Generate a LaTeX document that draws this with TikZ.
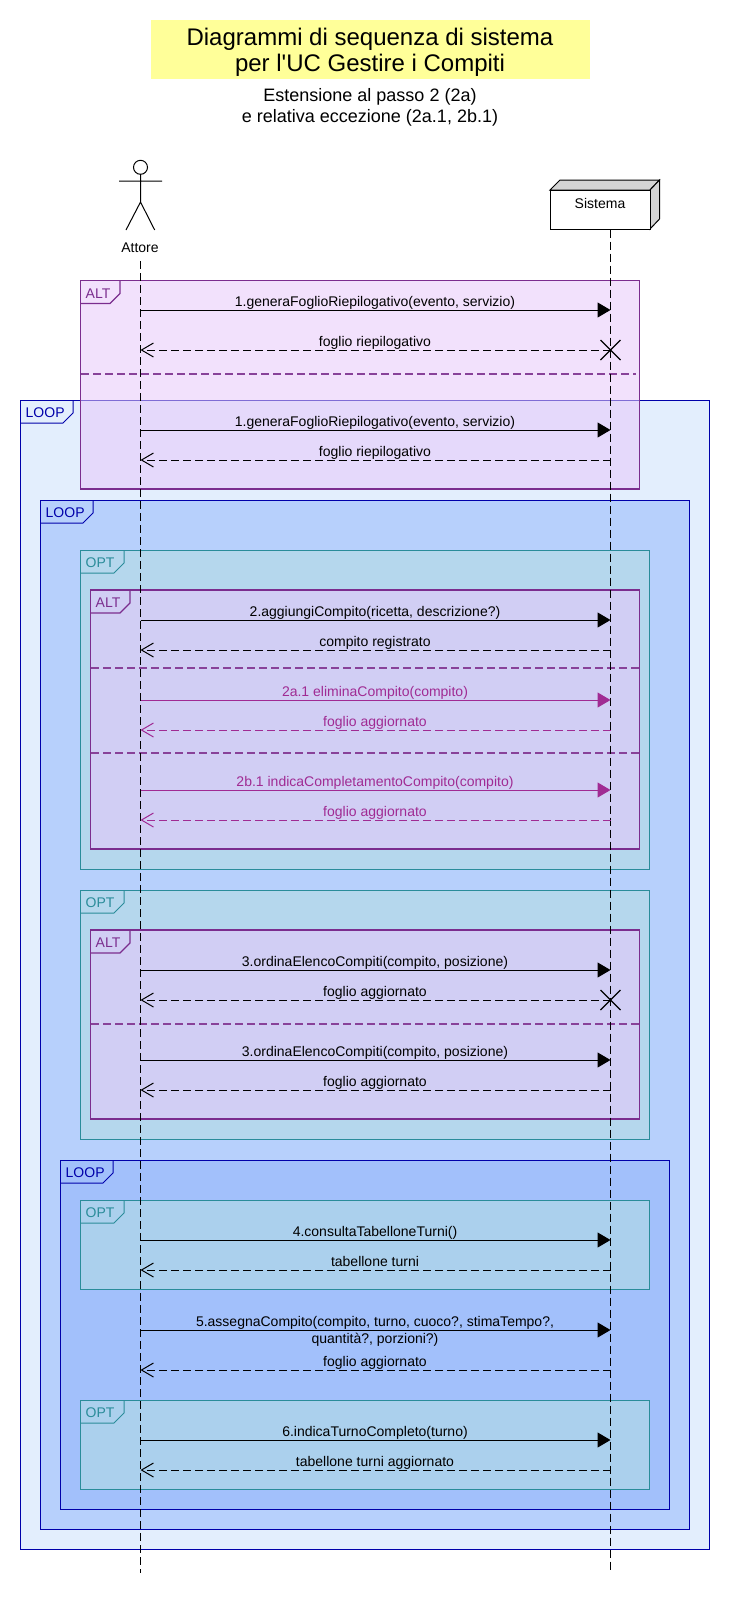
\documentclass[tikz,border=0pt]{standalone}
\usepackage{fontspec}
\setmainfont[Ligatures=TeXOff]{Liberation Sans}
\usetikzlibrary{arrows.meta}
\definecolor{titlefill}{HTML}{FFFF99}
\definecolor{altline}{HTML}{7B2D8E}
\definecolor{altfill}{HTML}{E8C8FA}
\definecolor{loopline}{HTML}{0000AA}
\definecolor{loopA}{HTML}{E3EEFD}
\definecolor{loopB}{HTML}{B7D0FC}
\definecolor{loopC}{HTML}{A2C0FB}
\definecolor{optline}{HTML}{2A8C9A}
\definecolor{optfill}{HTML}{B5DFE1}
\definecolor{extmsg}{HTML}{A02B93}
\definecolor{sideface}{HTML}{D4D4D4}

\begin{document}
\begin{tikzpicture}[
  x=1pt, y=-1pt,
  % Fragment styles
  altframe/.style={draw=altline, fill=altfill, fill opacity=0.55, line width=1.3pt},
  optframe/.style={draw=optline, fill=optfill, fill opacity=0.52, line width=1pt},
  loopAframe/.style={draw=loopline, fill=loopA, line width=1pt},
  loopBframe/.style={draw=loopline, fill=loopB, line width=1pt},
  loopCframe/.style={draw=loopline, fill=loopC, line width=1pt},
  altlabel/.style={anchor=west, inner sep=0pt, font=\fontsize{14}{16}\selectfont, text=altline},
  optlabel/.style={anchor=west, inner sep=0pt, font=\fontsize{14}{16}\selectfont, text=optline},
  looplabel/.style={anchor=west, inner sep=0pt, font=\fontsize{14}{16}\selectfont, text=loopline},
  divider/.style={draw=altline!90, line width=1.5pt, dash pattern=on 7.5pt off 4.5pt},
  % Message styles
  msg/.style={anchor=base, inner sep=0pt, font=\fontsize{14}{16}\selectfont},
  call/.style={-{Triangle[length=13pt,width=15pt]}, line width=1pt},
  reply/.style={-{Straight Barb[length=12pt,width=14pt,line width=1pt]}, line width=1pt, dash pattern=on 8pt off 4pt},
  lifeline/.style={line width=1pt, dash pattern=on 8pt off 4pt},
]
  \useasboundingbox (0,0) rectangle (730,1610);
  \pgfmathsetmacro{\actx}{140.5}
  \pgfmathsetmacro{\sysx}{610.5}
  \pgfmathsetmacro{\midx}{375}

  % Title and subtitle
  \fill[titlefill] (151,20) rectangle (590,79);
  \node[inner sep=0pt, align=center, font=\fontsize{24}{26}\selectfont] (title) at (370,52) {Diagrammi di sequenza di sistema\\per l'UC Gestire i Compiti};
  \node[inner sep=0pt, align=center, font=\fontsize{18}{20.5}\selectfont] (subtitle) at (370,107.5) {Estensione al passo 2 (2a)\\e relativa eccezione (2a.1, 2b.1)};

  % Frames, outermost first
  \foreach \kind/\lab/\xa/\ya/\xb/\yb/\tabx/\txt in {
    loopA/loop/20.5/400/709/1549/73/LOOP,
    alt/alt/80.5/280.5/639.5/489/120/ALT,
    loopB/loop/40.5/500/689.5/1529/93/LOOP,
    opt/opt/80.5/550/649/869/124/OPT,
    alt/alt/90.5/590/639.5/849/130/ALT,
    opt/opt/80.5/890/649/1139/124/OPT,
    alt/alt/90.5/930/639.5/1119/130/ALT,
    loopC/loop/60.5/1160/669.5/1509/113/LOOP,
    opt/opt/80.5/1200/649/1289/124/OPT,
    opt/opt/80.5/1400/649/1489/124/OPT} {
    \draw[\kind frame] (\xa,\ya) rectangle (\xb,\yb);
    \draw[\kind frame, fill=none] (\xa,\ya+23) -- (\tabx-10,\ya+23) -- (\tabx,\ya+13) -- (\tabx,\ya);
    \node[\lab label] (tab-\ya) at (\xa+5,\ya+13) {\txt};
  }

  % Dividers
  \foreach \n/\y/\xa/\xb in {1/374/81/636, 2/668/91/639, 3/753/91/639, 4/1024/91/639} {
    \coordinate (D-\n-l) at (\xa,\y);
    \coordinate (D-\n-r) at (\xb,\y);
    \draw[divider] (D-\n-l) -- (D-\n-r);
  }

  % Actor
  \node[circle, draw, line width=1pt, minimum size=14pt, inner sep=0pt] (head) at (\actx,167.3) {};
  \coordinate (hip) at (\actx,202);
  \coordinate (armL) at (119,181);
  \coordinate (armR) at (162,181);
  \coordinate (legL) at (126,230);
  \coordinate (legR) at (154.7,230);
  \draw[line width=1pt] (head) -- (hip) (armL) -- (armR) (legL) -- (hip) -- (legR);
  \node[msg] (attore) at (140,252.5) {Attore};

  % Sistema box
  \fill[sideface, draw=black, line width=1pt] (550,190) -- (560,180) -- (659.5,180) -- (650,190) -- cycle;
  \fill[sideface, draw=black, line width=1pt] (650,190) -- (659.5,180) -- (659.5,219) -- (650,229) -- cycle;
  \node[draw, fill=white, line width=1pt, minimum width=100pt, minimum height=39pt, inner sep=0pt] (sistema) at (600,209.5) {};
  \node[msg] (sistemalabel) at (600,208) {Sistema};

  % Lifelines
  \coordinate (A-top) at (\actx,261);
  \coordinate (A-end) at (\actx,1573);
  \coordinate (S-top) at (\sysx,229.5);
  \coordinate (S-end) at (\sysx,1573);
  \draw[lifeline] (A-top) -- (A-end);
  \draw[lifeline] (S-top) -- (S-end);

  % Calls: actor to system
  \foreach \y/\col/\txt in {
    310/black/{1.generaFoglioRiepilogativo(evento, servizio)},
    430/black/{1.generaFoglioRiepilogativo(evento, servizio)},
    620/black/{2.aggiungiCompito(ricetta, descrizione?)},
    700/extmsg/{2a.1 eliminaCompito(compito)},
    790/extmsg/{2b.1 indicaCompletamentoCompito(compito)},
    970/black/{3.ordinaElencoCompiti(compito, posizione)},
    1060/black/{3.ordinaElencoCompiti(compito, posizione)},
    1240/black/{4.consultaTabelloneTurni()},
    1330/black/{5.assegnaCompito(compito, turno, cuoco?, stimaTempo?,},
    1440/black/{6.indicaTurnoCompleto(turno)}} {
    \coordinate (A-\y) at (\actx,\y);
    \coordinate (S-\y) at (\sysx,\y);
    \draw[call, draw=\col, fill=\col] (A-\y) -- (S-\y);
    \node[msg, text=\col] (M-\y) at (\midx,\y-4) {\txt};
  }
  \node[msg] (M-1330b) at (\midx,1343) {quantità?, porzioni?)};

  % Replies: system to actor
  \foreach \y/\col/\txt in {
    350/black/{foglio riepilogativo},
    460/black/{foglio riepilogativo},
    650/black/{compito registrato},
    730/extmsg/{foglio aggiornato},
    820/extmsg/{foglio aggiornato},
    1000/black/{foglio aggiornato},
    1090/black/{foglio aggiornato},
    1270/black/{tabellone turni},
    1370/black/{foglio aggiornato},
    1470/black/{tabellone turni aggiornato}} {
    \coordinate (A-\y) at (\actx,\y);
    \coordinate (S-\y) at (\sysx,\y);
    \draw[reply, draw=\col] (S-\y) -- (A-\y);
    \node[msg, text=\col] (M-\y) at (\midx,\y-4) {\txt};
  }

  % Destruction marks
  \foreach \y in {350,1000} {
    \draw[line width=1.3pt] (\sysx-10,\y-10) -- (\sysx+10,\y+10) (\sysx-10,\y+10) -- (\sysx+10,\y-10);
  }
\end{tikzpicture}
\end{document}
